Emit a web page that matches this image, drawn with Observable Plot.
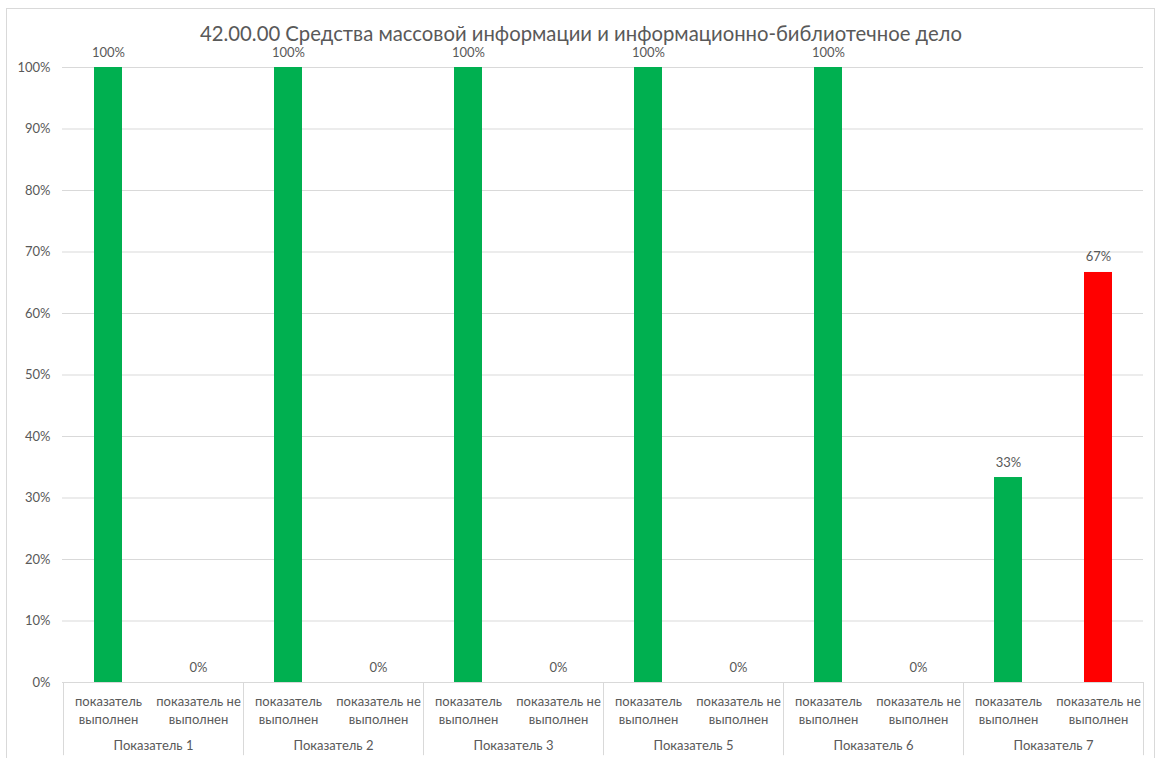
<!DOCTYPE html>
<html><head><meta charset="utf-8">
<script src="https://cdn.jsdelivr.net/npm/d3@7"></script>
<script src="https://cdn.jsdelivr.net/npm/@observablehq/plot@0.6"></script>
<style>
html,body{margin:0;padding:0;background:#fff;}
#wrap{position:relative;width:1162px;height:758px;overflow:hidden;font-family:Lato,"Open Sans",sans-serif;}
#border{position:absolute;left:6px;top:8px;width:1149px;height:780px;border:1px solid #d9d9d9;box-sizing:border-box;}
#title{position:absolute;left:0;width:1162px;top:21px;text-align:center;font-size:20.3px;color:#595959;}
#chart{position:absolute;left:0;top:0;}
</style></head>
<body><div id="wrap"><div id="border"></div><div id="chart"></div><div id="title">42.00.00 Средства массовой информации и информационно-библиотечное дело</div></div>
<script>
const groups = ["Показатель 1","Показатель 2","Показатель 3","Показатель 5","Показатель 6","Показатель 7"];
const statuses = ["показатель выполнен","показатель не выполнен"];
const statusLabels = ["показатель\nвыполнен","показатель не\nвыполнен"];
const doneValues = [1,1,1,1,1,0.3333];
const notDoneValues = [0,0,0,0,0,0.6667];
const colors = ["#00B050","#FF0000"];
const yTicks = [0,0.1,0.2,0.3,0.4,0.5,0.6,0.7,0.8,0.9,1];

const data = [];
groups.forEach((g,i)=>{
  data.push({group:g, status:statuses[0], key:g+"|"+statuses[0], value:doneValues[i]});
  data.push({group:g, status:statuses[1], key:g+"|"+statuses[1], value:notDoneValues[i]});
});
const keys = data.map(d=>d.key);
const firstKeys = groups.map(g=>g+"|"+statuses[0]);
const lastKey = keys[keys.length-1];
const label = k => statusLabels[statuses.indexOf(k.split("|")[1])];
const fmt = d3.format(".0%");
const gray = "#595959", grid = "#d9d9d9";

const chart = Plot.plot({
  width:1162, height:758,
  marginTop:67, marginBottom:76, marginLeft:62, marginRight:19,
  style:{fontFamily:"Lato, 'Open Sans', sans-serif", background:"transparent"},
  x:{domain:keys, padding:0, axis:null, label:null},
  y:{domain:[0,1], axis:null, label:null},
  color:{domain:statuses, range:colors},
  marks:[
    Plot.ruleY(yTicks,{stroke:grid, strokeWidth:1}),
    Plot.axisY({ticks:yTicks, tickFormat:fmt, tickSize:0, tickPadding:12, fontSize:13, fill:gray, anchor:"left", label:null}),
    Plot.axisX({tickSize:0, tickFormat:label, tickPadding:11, fontSize:13, fill:gray, lineHeight:1.38, label:null}),
    Plot.barY(data,{x:"key", y:"value", fill:"status", insetLeft:31, insetRight:31}),
    Plot.text(data,{x:"key", y:"value", text:d=>fmt(d.value), dy:-11, lineAnchor:"bottom", fill:gray, fontSize:13}),
    Plot.ruleX(firstKeys,{x:d=>d, dx:-45, y1:0, y2:-0.119, stroke:grid}),
    Plot.ruleX([lastKey],{x:d=>d, dx:45, y1:0, y2:-0.119, stroke:grid}),
    Plot.text(groups,{x:(g)=>g+"|"+statuses[0], text:d=>d, dx:45, frameAnchor:"bottom", dy:67, fill:gray, fontSize:13})
  ]
});
document.getElementById("chart").appendChild(chart);
</script></body></html>
